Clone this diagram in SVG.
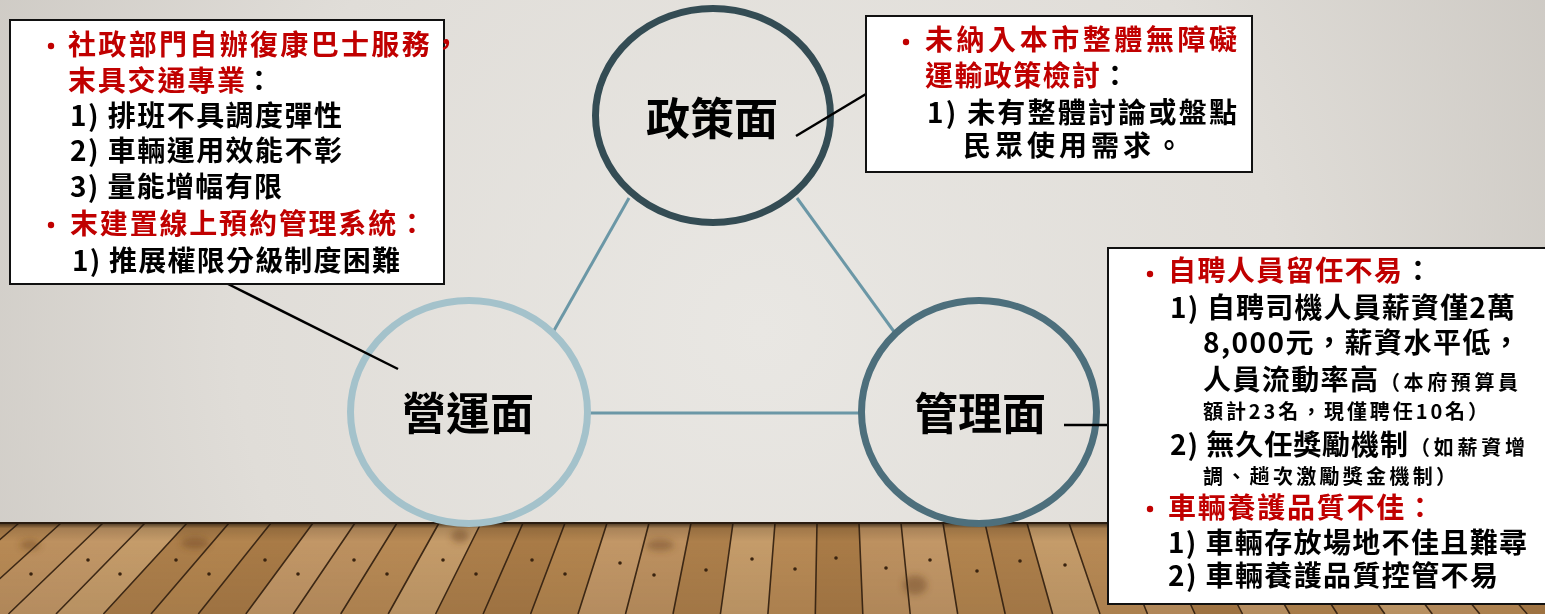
<svg xmlns="http://www.w3.org/2000/svg" width="1545" height="614" viewBox="0 0 1545 614">
<defs>
<radialGradient id="wall" cx="760" cy="330" r="950" gradientUnits="userSpaceOnUse">
<stop offset="0" stop-color="#e9e7e3"/>
<stop offset="0.55" stop-color="#e0ddd8"/>
<stop offset="1" stop-color="#c9c5bf"/>
</radialGradient>
<linearGradient id="floorShade" x1="0" y1="523" x2="0" y2="614" gradientUnits="userSpaceOnUse">
<stop offset="0" stop-color="#1e140a" stop-opacity="0.75"/>
<stop offset="0.06" stop-color="#1e140a" stop-opacity="0.15"/>
<stop offset="0.2" stop-color="#1e140a" stop-opacity="0"/>
<stop offset="1" stop-color="#1e140a" stop-opacity="0.08"/>
</linearGradient>
<filter id="blur3"><feGaussianBlur stdDeviation="3"/></filter>
<style>
.p0{fill:#b88a55}.p1{fill:#c29767}.p2{fill:#ad7f4b}.p3{fill:#bd9160}.p4{fill:#b3854f}.p5{fill:#c59c6a}.p6{fill:#a97b47}
.seam{fill:none;stroke:#3d2815;stroke-width:1.6}
.nail{fill:#3a230f}
.knot{fill:#6e4620;opacity:0.45}
.ring{fill:none;stroke-width:7}
.link{stroke:#6b97a6;stroke-width:3;fill:none}
.callout{stroke:#000;stroke-width:2.5;fill:none}
.box{fill:#fff;stroke:#111;stroke-width:2}
.bullet{fill:#c00000}
.t{font-family:'Noto Sans CJK TC','Noto Sans CJK SC','Noto Sans',sans-serif;font-weight:700;font-size:28px}
.s{font-size:20px}
.title{font-family:'Noto Sans CJK TC','Noto Sans CJK SC','Noto Sans',sans-serif;font-weight:700;font-size:44px;fill:#000;text-anchor:middle}
.r{fill:#c00000}
.k{fill:#000}
</style>
</defs>

<g id="background">
<rect x="0" y="0" width="1545" height="614" fill="url(#wall)"/>
<g id="floor">
<polygon class="p2" points="-23,523 19,523 -86,614 -134,614"/>
<polygon class="p0" points="19,523 61,523 -39,614 -86,614"/>
<polygon class="p3" points="61,523 103,523 8.5,614 -39,614"/>
<polygon class="p1" points="103,523 145,523 56,614 8.5,614"/>
<polygon class="p5" points="145,523 187,523 103.4,614 56,614"/>
<polygon class="p2" points="187,523 229,523 151,614 103.4,614"/>
<polygon class="p4" points="229,523 271,523 198.3,614 151,614"/>
<polygon class="p6" points="271,523 313,523 245.8,614 198.3,614"/>
<polygon class="p1" points="313,523 355,523 293.3,614 245.8,614"/>
<polygon class="p3" points="355,523 397,523 340.7,614 293.3,614"/>
<polygon class="p0" points="397,523 439,523 388.2,614 340.7,614"/>
<polygon class="p5" points="439,523 481,523 435.6,614 388.2,614"/>
<polygon class="p2" points="481,523 523,523 483.1,614 435.6,614"/>
<polygon class="p6" points="523,523 565,523 530.6,614 483.1,614"/>
<polygon class="p4" points="565,523 607,523 578,614 530.6,614"/>
<polygon class="p1" points="607,523 649,523 625.5,614 578,614"/>
<polygon class="p3" points="649,523 691,523 673,614 625.5,614"/>
<polygon class="p2" points="691,523 733,523 720.4,614 673,614"/>
<polygon class="p5" points="733,523 775,523 767.9,614 720.4,614"/>
<polygon class="p0" points="775,523 817,523 815.3,614 767.9,614"/>
<polygon class="p6" points="817,523 859,523 862.8,614 815.3,614"/>
<polygon class="p3" points="859,523 901,523 910.2,614 862.8,614"/>
<polygon class="p1" points="901,523 943,523 957.7,614 910.2,614"/>
<polygon class="p4" points="943,523 985,523 1005.2,614 957.7,614"/>
<polygon class="p2" points="985,523 1027,523 1052.6,614 1005.2,614"/>
<polygon class="p5" points="1027,523 1069,523 1100,614 1052.6,614"/>
<polygon class="p0" points="1069,523 1111,523 1147.5,614 1100,614"/>
<polygon class="p3" points="1111,523 1153,523 1195,614 1147.5,614"/>
<polygon class="p6" points="1153,523 1195,523 1242.5,614 1195,614"/>
<polygon class="p1" points="1195,523 1237,523 1289.9,614 1242.5,614"/>
<polygon class="p4" points="1237,523 1279,523 1337.4,614 1289.9,614"/>
<polygon class="p2" points="1279,523 1321,523 1384.8,614 1337.4,614"/>
<polygon class="p5" points="1321,523 1363,523 1432.3,614 1384.8,614"/>
<polygon class="p3" points="1363,523 1405,523 1479.8,614 1432.3,614"/>
<polygon class="p0" points="1405,523 1447,523 1527.2,614 1479.8,614"/>
<polygon class="p6" points="1447,523 1489,523 1574.7,614 1527.2,614"/>
<polygon class="p1" points="1489,523 1531,523 1622,614 1574.7,614"/>
<polygon class="p4" points="1531,523 1573,523 1669.5,614 1622,614"/>
<g filter="url(#blur3)">
<ellipse class="knot" cx="30" cy="545" rx="10" ry="5"/>
<ellipse class="knot" cx="195" cy="543" rx="14" ry="6"/>
<ellipse class="knot" cx="460" cy="536" rx="9" ry="7"/>
<ellipse class="knot" cx="660" cy="545" rx="14" ry="6"/>
<ellipse class="knot" cx="915" cy="585" rx="12" ry="10"/>
<ellipse class="knot" cx="1125" cy="540" rx="12" ry="6"/>
<ellipse class="knot" cx="1435" cy="540" rx="14" ry="7"/>
</g>
<path class="seam" d="M19 523L-86 614M61 523L-39 614M103 523L8.5 614M145 523L56 614M187 523L103.4 614M229 523L151 614M271 523L198.3 614M313 523L245.8 614M355 523L293.3 614M397 523L340.7 614M439 523L388.2 614M481 523L435.6 614M523 523L483.1 614M565 523L530.6 614M607 523L578 614M649 523L625.5 614M691 523L673 614M733 523L720.4 614M775 523L767.9 614M817 523L815.3 614M859 523L862.8 614M901 523L910.2 614M943 523L957.7 614M985 523L1005.2 614M1027 523L1052.6 614M1069 523L1100 614M1111 523L1147.5 614M1153 523L1195 614M1195 523L1242.5 614M1237 523L1289.9 614M1279 523L1337.4 614M1321 523L1384.8 614M1363 523L1432.3 614M1405 523L1479.8 614M1447 523L1527.2 614M1489 523L1574.7 614M1531 523L1622 614"/>
<g>
<circle class="nail" cx="31" cy="574" r="1.8"/>
<circle class="nail" cx="88" cy="560" r="1.8"/>
<circle class="nail" cx="120" cy="574" r="1.8"/>
<circle class="nail" cx="176" cy="560" r="1.8"/>
<circle class="nail" cx="209" cy="574" r="1.8"/>
<circle class="nail" cx="265" cy="560" r="1.8"/>
<circle class="nail" cx="298" cy="574" r="1.8"/>
<circle class="nail" cx="354" cy="560" r="1.8"/>
<circle class="nail" cx="387" cy="574" r="1.8"/>
<circle class="nail" cx="443" cy="560" r="1.8"/>
<circle class="nail" cx="476" cy="574" r="1.8"/>
<circle class="nail" cx="532" cy="560" r="1.8"/>
<circle class="nail" cx="565" cy="574" r="1.8"/>
<circle class="nail" cx="620" cy="563" r="1.8"/>
<circle class="nail" cx="654" cy="575" r="1.8"/>
<circle class="nail" cx="706" cy="570" r="1.8"/>
<circle class="nail" cx="752" cy="559" r="1.8"/>
<circle class="nail" cx="795" cy="569" r="1.8"/>
<circle class="nail" cx="836" cy="558" r="1.8"/>
<circle class="nail" cx="886" cy="568" r="1.8"/>
<circle class="nail" cx="930" cy="560" r="1.8"/>
<circle class="nail" cx="977" cy="571" r="1.8"/>
<circle class="nail" cx="1020" cy="561" r="1.8"/>
<circle class="nail" cx="1065" cy="565" r="1.8"/>
<circle class="nail" cx="1110" cy="560" r="1.8"/>
<circle class="nail" cx="1152" cy="574" r="1.8"/>
<circle class="nail" cx="1198" cy="560" r="1.8"/>
<circle class="nail" cx="1240" cy="574" r="1.8"/>
<circle class="nail" cx="1287" cy="560" r="1.8"/>
<circle class="nail" cx="1330" cy="574" r="1.8"/>
<circle class="nail" cx="1376" cy="560" r="1.8"/>
<circle class="nail" cx="1420" cy="574" r="1.8"/>
<circle class="nail" cx="1465" cy="560" r="1.8"/>
<circle class="nail" cx="1508" cy="574" r="1.8"/>
</g>
<rect x="0" y="523" width="1545" height="91" fill="url(#floorShade)"/>
<rect x="0" y="522" width="1545" height="2" fill="#2a1c10"/>
</g>
</g>

<g id="connectors">
<line class="link" x1="629" y1="198" x2="552" y2="334"/>
<line class="link" x1="797" y1="198" x2="895" y2="333"/>
<line class="link" x1="590" y1="413" x2="859" y2="413"/>
</g>

<g id="node-policy">
<ellipse class="ring" cx="713" cy="115.5" rx="117.5" ry="107" stroke="#344c54"/>
<text class="title" x="712" y="135">政策面</text>
</g>

<g id="node-operation">
<ellipse class="ring" cx="469" cy="412" rx="118.5" ry="111.5" stroke="#a4c2cb"/>
<text class="title" x="468" y="430">營運面</text>
</g>

<g id="node-management">
<ellipse class="ring" cx="979" cy="412" rx="117.5" ry="111.5" stroke="#4d6f7c"/>
<text class="title" x="980" y="430">管理面</text>
</g>

<g id="callout-lines">
<line class="callout" x1="228" y1="284" x2="398" y2="369"/>
<line class="callout" x1="796" y1="136" x2="866" y2="94"/>
<line class="callout" x1="1064" y1="425" x2="1108" y2="425"/>
</g>

<g id="box-operation">
<rect class="box" x="10" y="20" width="434" height="264"/>
<circle class="bullet" cx="51" cy="46" r="3.2"/>
<text class="t r" x="68" y="55" textLength="392" lengthAdjust="spacing">社政部門自辦復康巴士服務，</text>
<text class="t r" x="68" y="91" textLength="177" lengthAdjust="spacing">末具交通專業</text>
<text class="t k" x="245" y="91">：</text>
<text class="t k" x="70" y="126" textLength="272" lengthAdjust="spacing">1) 排班不具調度彈性</text>
<text class="t k" x="70" y="161" textLength="272" lengthAdjust="spacing">2) 車輛運用效能不彰</text>
<text class="t k" x="70" y="197" textLength="212" lengthAdjust="spacing">3) 量能增幅有限</text>
<circle class="bullet" cx="51" cy="225" r="3.2"/>
<text class="t r" x="70" y="234" textLength="356" lengthAdjust="spacing">末建置線上預約管理系統：</text>
<text class="t k" x="72" y="271" textLength="328" lengthAdjust="spacing">1) 推展權限分級制度困難</text>
</g>

<g id="box-policy">
<rect class="box" x="866" y="16" width="386" height="156"/>
<circle class="bullet" cx="906" cy="42" r="3.2"/>
<text class="t r" x="925" y="50" textLength="312" lengthAdjust="spacing">未納入本市整體無障礙</text>
<text class="t r" x="925" y="86" textLength="175" lengthAdjust="spacing">運輸政策檢討</text>
<text class="t k" x="1101" y="86">：</text>
<text class="t k" x="927" y="123" textLength="310" lengthAdjust="spacing">1) 未有整體討論或盤點</text>
<text class="t k" x="963" y="156" textLength="220" lengthAdjust="spacing">民眾使用需求。</text>
</g>

<g id="box-management">
<rect class="box" x="1108" y="248" width="450" height="356"/>
<circle class="bullet" cx="1150" cy="274" r="3.2"/>
<text class="t r" x="1168" y="281" textLength="234" lengthAdjust="spacing">自聘人員留任不易</text>
<text class="t k" x="1404" y="281">：</text>
<text class="t k" x="1170" y="318" textLength="345" lengthAdjust="spacing">1) 自聘司機人員薪資僅2萬</text>
<text class="t k" x="1203" y="353" textLength="317" lengthAdjust="spacing">8,000元，薪資水平低，</text>
<text class="t k" x="1203" y="390" textLength="175" lengthAdjust="spacing">人員流動率高</text>
<text class="t s k" x="1380" y="390" textLength="138" lengthAdjust="spacing">（本府預算員</text>
<text class="t s k" x="1203" y="419" textLength="285" lengthAdjust="spacing">額計23名，現僅聘任10名）</text>
<text class="t k" x="1170" y="455" textLength="238" lengthAdjust="spacing">2) 無久任獎勵機制</text>
<text class="t s k" x="1410" y="455" textLength="115" lengthAdjust="spacing">（如薪資增</text>
<text class="t s k" x="1203" y="484" textLength="253" lengthAdjust="spacing">調、趟次激勵獎金機制）</text>
<circle class="bullet" cx="1150" cy="509" r="3.2"/>
<text class="t r" x="1168" y="518" textLength="266" lengthAdjust="spacing">車輛養護品質不佳：</text>
<text class="t k" x="1168" y="553" textLength="359" lengthAdjust="spacing">1) 車輛存放場地不佳且難尋</text>
<text class="t k" x="1168" y="586" textLength="330" lengthAdjust="spacing">2) 車輛養護品質控管不易</text>
</g>
</svg>
